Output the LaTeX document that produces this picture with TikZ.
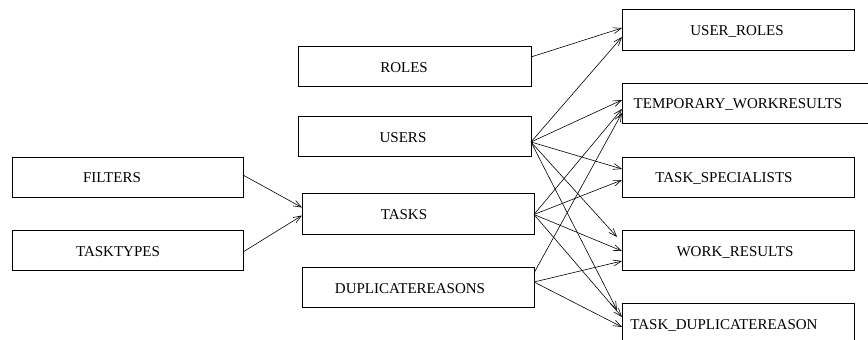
\documentclass[tikz,border=0pt]{standalone}
\usepackage{fontspec}
\setmainfont{Liberation Serif}
\usetikzlibrary{arrows.meta}
\begin{document}
\begin{tikzpicture}[x=1pt,y=-1pt,
  box/.style={draw=black,line width=0.8pt,minimum height=40pt,inner sep=0pt,outer sep=0pt},
  lbl/.style={inner sep=0pt,outer sep=0pt,text height=10pt,text depth=0pt,font=\fontsize{15}{18}\selectfont},
  conn/.style={draw=black,line width=0.6pt,-{Straight Barb[length=8pt,width=6pt,line width=0.6pt]}}]
\path[use as bounding box] (0,0) rectangle (868,340);
\clip (0,0) rectangle (868,340);
% left column
\node[box,minimum width=231pt] (filters) at (127.5,177) {};
\node[lbl] (filters-t) at (112,177) {FILTERS};
\node[box,minimum width=231pt] (tasktypes) at (127.5,250) {};
\node[lbl] (tasktypes-t) at (118,251) {TASKTYPES};
% middle column
\node[box,minimum width=233pt] (roles) at (414.5,66) {};
\node[lbl] (roles-t) at (404,67) {ROLES};
\node[box,minimum width=233pt] (users) at (414.5,136) {};
\node[lbl] (users-t) at (403,137) {USERS};
\node[box,minimum width=232pt,minimum height=41pt] (tasks) at (418,213.5) {};
\node[lbl] (tasks-t) at (404,214.5) {TASKS};
\node[box,minimum width=232pt] (dup) at (418,287) {};
\node[lbl] (dup-t) at (410,288) {DUPLICATEREASONS};
% right column
\node[box,minimum width=232pt,minimum height=41pt] (userroles) at (738,29.5) {};
\node[lbl] (userroles-t) at (737,30) {USER\_ROLES};
\node[box,minimum width=258pt] (temp) at (751,103) {};
\node[lbl] (temp-t) at (738,103) {TEMPORARY\_WORKRESULTS};
\node[box,minimum width=232pt] (taskspec) at (738,177) {};
\node[lbl] (taskspec-t) at (724,177) {TASK\_SPECIALISTS};
\node[box,minimum width=232pt] (work) at (738,250) {};
\node[lbl] (work-t) at (735,251) {WORK\_RESULTS};
\node[box,minimum width=232pt] (tdr) at (738,323) {};
\node[lbl] (tdr-t) at (724,324) {TASK\_DUPLICATEREASON};
% connectors
\draw[conn] ([yshift=2pt]filters.east) -- ([yshift=6pt]tasks.west);
\draw[conn] ([yshift=-2pt]tasktypes.east) -- ([yshift=-2pt]tasks.west);
\draw[conn] ([yshift=9pt]roles.east) -- ([yshift=1.5pt]userroles.west);
\draw[conn] ([yshift=-6pt]users.east) -- ([yshift=-7.5pt]userroles.west);
\draw[conn] ([yshift=-6pt]users.east) -- ([yshift=3pt]temp.west);
\draw[conn] ([yshift=-6pt]users.east) -- ([yshift=8pt]taskspec.west);
\draw[conn] ([yshift=-6pt]users.east) -- ([xshift=-5pt,yshift=13pt]work.west);
\draw[conn] ([yshift=-6pt]users.east) -- ([xshift=-5pt,yshift=13pt]tdr.west);
\draw[conn] ([yshift=-1pt]tasks.east) -- ([yshift=-6pt]temp.west);
\draw[conn] ([yshift=-1pt]tasks.east) -- ([yshift=-3pt]taskspec.west);
\draw[conn] ([yshift=-1pt]tasks.east) -- ([yshift=-1pt]work.west);
\draw[conn] ([yshift=-1pt]tasks.east) -- ([yshift=6pt]tdr.west);
\draw[conn] ([yshift=14pt]dup.east) -- ([yshift=-10pt]temp.west);
\draw[conn] ([yshift=5pt]dup.east) -- ([yshift=-11pt]work.west);
\draw[conn] ([yshift=5pt]dup.east) -- ([yshift=-4pt]tdr.west);
\end{tikzpicture}
\end{document}
